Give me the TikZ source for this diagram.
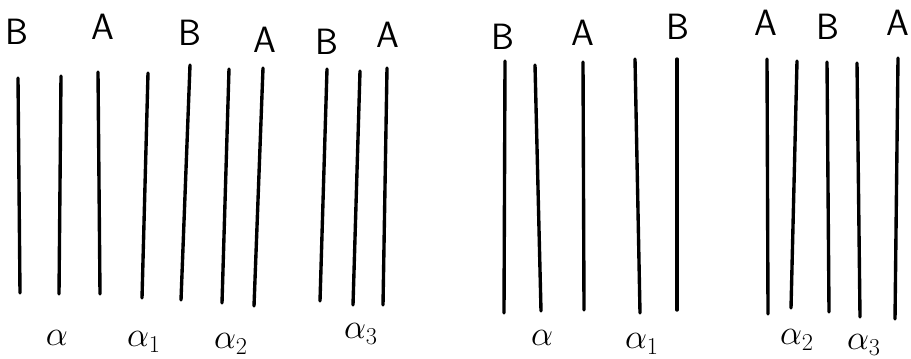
\documentclass[tikz,border=0pt]{standalone}
\usepackage{tikz}

\begin{document}
\begin{tikzpicture}[x=0.025cm, y=-0.025cm,
      stroke/.style={line width=2.4pt, line cap=round},
      letter/.style={font=\fontsize{26}{30}\selectfont\sffamily},
      greek/.style={font=\fontsize{25}{28}\selectfont}]
      \useasboundingbox (0,0) rectangle (911,358);
      % the strands, top and bottom ends
      \foreach \xa/\ya/\xb/\yb in {18/78/20/293, 61/76/59/294, 98/72/100/294,
            148/73/142/298, 190/65/181/300, 229/69/222/303, 263/68/254/306,
            327/69/320/301, 360/71/353/305, 387/68/383/305,
            505/61/504/313, 535/65/541/311, 583/62/584/310, 635/59/640/313,
            677/59/677/310, 767/59/768/314, 797/61/791/308, 827/62/829/312,
            857/63/860/317, 898/58/895/319}
        \draw[stroke] (\xa,\ya) -- (\xb,\yb);
      % labels on top
      \node[letter] (b1) at (17,32) {B};
      \node[letter] (a1) at (103,27) {A};
      \node[letter] (b2) at (190,33) {B};
      \node[letter] (a2) at (265,40) {A};
      \node[letter] (b3) at (327,42) {B};
      \node[letter] (a3) at (388,35) {A};
      \node[letter] (b4) at (503,37) {B};
      \node[letter] (a4) at (583,33) {A};
      \node[letter] (b5) at (678,27) {B};
      \node[letter] (a5) at (766,23) {A};
      \node[letter] (b6) at (828,27) {B};
      \node[letter] (a6) at (898,23) {A};
      % labels below
      \node[greek] (al) at (57,338) {$\alpha$};
      \node[greek] (al1) at (144,342) {$\alpha_1$};
      \node[greek] (al2) at (231,344) {$\alpha_2$};
      \node[greek] (al3) at (361,334) {$\alpha_3$};
      \node[greek] (ar) at (542,338) {$\alpha$};
      \node[greek] (ar1) at (642,344) {$\alpha_1$};
      \node[greek] (ar2) at (797,340) {$\alpha_2$};
      \node[greek] (ar3) at (864,345) {$\alpha_3$};
    \end{tikzpicture}
\end{document}
